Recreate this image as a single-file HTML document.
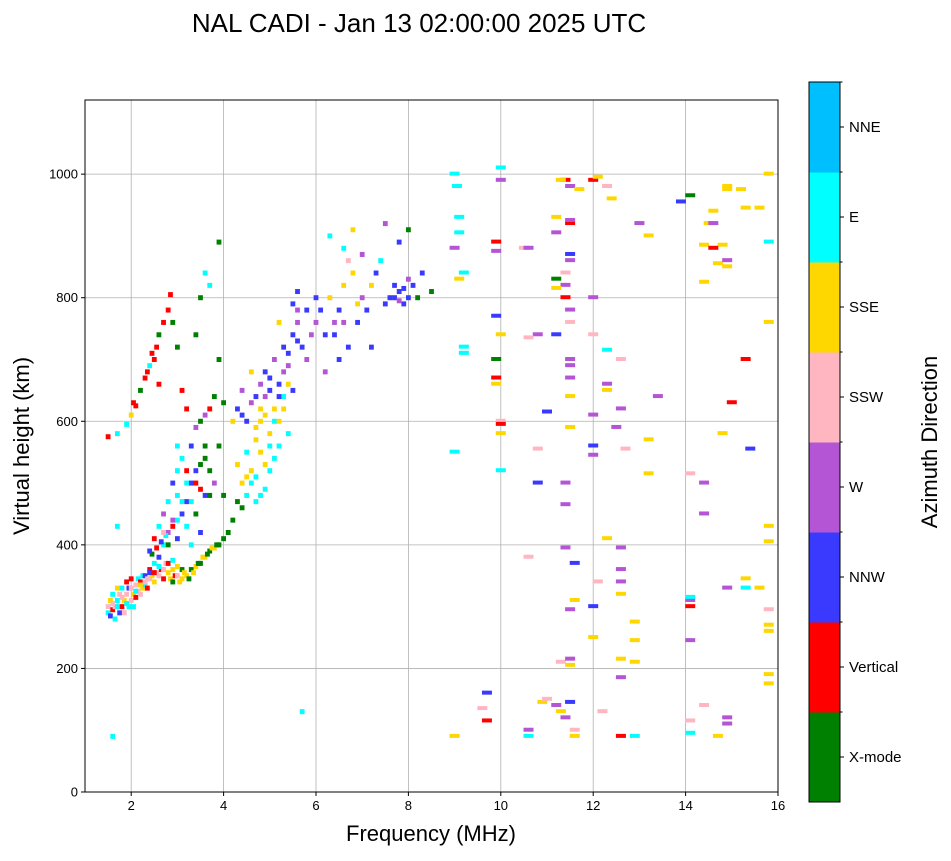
<!DOCTYPE html>
<html><head><meta charset="utf-8"><style>
body{margin:0;background:#fff;font-family:"Liberation Sans",sans-serif}
svg text{font-family:"Liberation Sans",sans-serif}
</style></head><body>
<svg id="chart" width="951" height="856" xmlns="http://www.w3.org/2000/svg">
<text x="419" y="32" font-size="26" text-anchor="middle">NAL CADI - Jan 13 02:00:00 2025 UTC</text>
<g id="grid"></g>
<g id="marks"></g>
<rect x="85" y="100" width="693" height="692" fill="none" stroke="#000" stroke-width="1"/>
<g id="axes"></g>
<text x="431" y="841" font-size="22" text-anchor="middle">Frequency (MHz)</text>
<text transform="translate(29,446) rotate(-90)" font-size="22" text-anchor="middle">Virtual height (km)</text>
<g id="cbar"></g>
<text transform="translate(937,442) rotate(-90)" font-size="22" text-anchor="middle">Azimuth Direction</text>
</svg>
<script>
const dirLabels=["X-mode","Vertical","NNW","W","SSW","SSE","E","NNE"];
const dirColors=["#008000","#ff0000","#3a3aff","#b455d6","#ffb6c1","#ffd700","#00ffff","#00bfff"];
const xTicks=[2,4,6,8,10,12,14,16];
const yTicks=[0,200,400,600,800,1000];
// [freq MHz, virtual height km, direction index]
const lowCluster=[[1.5,290,6],[1.5,300,4],[1.55,285,2],[1.55,310,5],[1.6,295,1],[1.6,320,6],[1.65,300,4],[1.65,280,6],[1.7,330,5],[1.7,310,6],[1.75,290,2],[1.75,320,4],[1.8,300,1],[1.8,330,6],[1.85,310,5],[1.85,290,4],[1.9,340,1],[1.9,320,4],[1.95,300,6],[1.95,330,2],[2.0,310,4],[2.0,345,1],[2.05,320,5],[2.05,300,6],[2.1,335,4],[2.1,315,1],[2.15,345,6],[2.15,325,4],[2.2,340,1],[2.2,320,4],[2.25,350,6],[2.25,330,5],[2.3,335,6],[2.3,350,2],[2.35,345,4],[2.35,330,1],[2.4,345,4],[2.4,360,1],[2.45,350,5],[2.5,340,5],[2.5,370,6],[2.55,355,4],[2.6,350,4],[2.6,380,2],[2.65,360,1],[2.7,345,1],[2.7,400,6],[2.75,370,4],[2.8,355,5],[2.8,420,3],[2.85,345,5],[2.9,340,0],[2.9,360,5],[2.95,350,1],[3.0,350,4],[3.0,440,6],[3.05,340,5],[3.1,345,5],[3.1,360,0],[3.15,355,5],[3.2,350,5],[3.2,470,2],[3.25,345,0],[3.3,360,0],[3.3,400,6],[3.35,355,5],[3.4,365,5],[3.4,500,1],[3.45,370,0],[3.5,370,0],[3.5,420,2],[3.55,380,5],[3.6,380,5],[3.6,540,0],[3.65,385,0],[3.7,390,0],[3.75,395,5],[3.8,395,5],[3.85,400,0],[3.9,400,0],[4.0,410,0],[4.0,630,0],[1.6,305,4],[1.7,300,6],[1.8,315,4],[1.9,305,6],[2.0,330,4],[2.1,325,6],[2.2,335,5],[2.3,340,4],[2.4,355,2],[2.5,355,1],[2.6,365,6],[2.7,360,4],[2.8,370,1],[2.9,375,6],[3.0,365,5],[2.45,385,0],[2.55,395,1],[2.65,405,2],[2.75,415,6]];
const midBand=[[2.4,390,2],[2.5,410,1],[2.6,430,6],[2.7,450,3],[2.8,470,6],[2.9,500,2],[3.0,520,6],[3.0,560,6],[3.1,540,6],[3.2,520,1],[3.3,560,2],[3.4,590,3],[3.5,600,0],[3.6,610,3],[3.7,620,1],[3.8,640,0],[3.9,700,0],[2.8,400,0],[3.0,410,2],[3.2,430,6],[3.4,450,0],[3.6,480,2],[3.8,500,3],[3.9,560,0],[3.7,520,0],[2.9,430,1],[3.1,470,6],[3.3,500,2],[3.5,530,0],[2.9,440,3],[3.1,450,2],[3.3,470,6],[3.5,490,1],[3.7,480,0],[2.7,420,4],[3.0,480,6],[3.2,500,6],[3.4,520,2],[3.6,560,0]];
const upperBranch=[[1.5,575,1],[1.7,580,6],[1.9,595,6],[2.0,610,5],[2.05,630,1],[2.1,625,1],[2.2,650,0],[2.3,670,1],[2.4,690,6],[2.5,700,1],[2.55,720,1],[2.6,740,0],[2.7,760,1],[2.8,780,1],[2.85,805,1],[2.9,760,0],[3.0,720,0],[3.1,650,1],[3.2,620,1],[3.4,740,0],[3.5,800,0],[3.6,840,6],[3.7,820,6],[3.9,890,0],[1.7,430,6],[1.6,90,6],[2.35,680,1],[2.45,710,1],[2.6,660,1]];
const fTrace=[[4.2,440,0],[4.3,470,0],[4.4,500,5],[4.5,480,6],[4.6,520,5],[4.7,470,6],[4.8,550,5],[4.9,490,6],[5.0,580,5],[5.0,520,6],[5.1,600,6],[5.2,560,6],[5.3,620,5],[5.4,580,6],[4.5,600,2],[4.6,630,3],[4.7,640,2],[4.8,660,3],[4.9,680,2],[5.0,650,2],[5.1,700,3],[5.2,660,2],[5.3,720,2],[5.4,690,3],[5.5,740,2],[5.5,650,2],[5.6,760,3],[5.7,720,2],[5.8,780,2],[5.9,740,3],[6.0,800,2],[4.3,620,2],[4.4,650,3],[4.6,680,5],[4.8,620,5],[5.2,760,5],[4.0,480,0],[4.1,420,0],[4.3,530,5],[4.5,550,6],[4.7,590,5],[4.9,610,5],[5.1,620,5],[5.3,640,6],[5.5,790,2],[5.6,810,2],[5.8,700,3],[4.6,500,6],[4.7,510,6],[4.8,480,6],[4.9,530,5],[5.0,560,6],[5.1,540,6],[4.7,570,5],[4.8,600,5],[4.9,640,3],[5.0,670,2],[5.2,640,2],[5.3,680,3],[5.4,710,2],[5.6,730,2],[4.4,610,2],[4.2,600,5],[4.4,460,0],[4.5,510,5],[5.2,600,5],[5.4,660,5],[5.6,780,3]];
const highTrace=[[6.0,760,3],[6.1,780,2],[6.2,740,2],[6.3,800,5],[6.4,760,3],[6.5,780,2],[6.6,820,5],[6.7,860,4],[6.8,840,5],[6.9,760,2],[7.0,800,3],[7.1,780,2],[7.2,820,5],[7.3,840,2],[7.4,860,6],[7.5,790,2],[7.6,800,2],[7.7,820,2],[7.8,810,2],[7.9,790,2],[8.0,830,3],[8.1,820,2],[8.2,800,0],[8.3,840,2],[8.5,810,0],[6.5,700,2],[6.6,880,6],[6.3,900,6],[6.8,910,5],[7.0,870,3],[7.5,920,3],[7.8,890,2],[8.0,910,0],[6.2,680,3],[6.7,720,2],[7.2,720,2],[7.7,800,2],[7.8,795,3],[7.9,815,2],[8.0,800,2],[6.4,740,2],[6.6,760,3],[6.9,790,5]];
const farEchoes=[[9.0,1000,6],[9.05,980,6],[9.1,930,6],[9.1,905,6],[9.0,880,3],[9.2,840,6],[9.1,830,5],[9.2,720,6],[9.2,710,6],[9.0,550,6],[9.0,90,5],[9.7,160,2],[9.6,135,4],[9.7,115,1],[10.0,1010,6],[10.0,990,3],[9.9,890,1],[9.9,875,3],[9.9,770,2],[9.9,700,0],[9.9,670,1],[9.9,660,5],[10.0,740,5],[10.0,600,4],[10.0,595,1],[10.0,580,5],[10.0,520,6],[10.5,880,4],[10.6,880,3],[10.8,740,3],[10.6,735,4],[10.6,380,4],[10.8,555,4],[10.8,500,2],[11.0,615,2],[10.6,100,3],[10.6,90,6],[10.9,145,5],[11.0,150,4],[11.2,140,3],[11.3,130,5],[11.4,120,3],[11.6,100,4],[11.6,90,5],[11.5,145,2],[11.3,210,4],[11.5,205,5],[11.5,215,3],[11.6,310,5],[11.5,295,3],[11.6,370,2],[11.4,395,3],[11.4,465,3],[11.4,500,3],[11.5,590,5],[11.5,640,5],[11.5,670,3],[11.5,690,3],[11.5,700,3],[11.5,760,4],[11.5,780,3],[11.4,800,1],[11.4,820,3],[11.4,840,4],[11.5,860,3],[11.5,870,2],[11.5,920,1],[11.5,925,3],[11.4,990,1],[11.5,980,3],[11.2,930,5],[11.2,905,3],[11.2,830,0],[11.2,815,5],[11.2,740,2],[11.3,990,5],[11.7,975,5],[12.0,990,1],[12.1,995,5],[12.0,800,3],[12.0,740,4],[12.3,715,6],[12.0,610,3],[12.0,560,2],[12.0,545,3],[12.0,300,2],[12.0,250,5],[12.1,340,4],[12.2,130,4],[12.3,410,5],[12.3,660,3],[12.3,650,5],[12.6,700,4],[12.6,620,3],[12.7,555,4],[12.5,590,3],[12.6,395,3],[12.6,360,3],[12.6,340,3],[12.6,320,5],[12.6,215,5],[12.6,185,3],[12.6,90,1],[12.9,90,6],[12.9,275,5],[12.9,245,5],[12.9,210,5],[13.0,920,3],[13.2,900,5],[13.2,570,5],[13.2,515,5],[13.4,640,3],[12.4,960,5],[12.3,980,4],[13.9,955,2],[14.1,965,0],[14.1,515,4],[14.1,300,1],[14.1,310,3],[14.1,315,6],[14.1,245,3],[14.1,115,4],[14.1,95,6],[14.4,500,3],[14.4,450,3],[14.4,140,4],[14.5,920,5],[14.6,920,3],[14.4,885,5],[14.8,885,5],[14.6,940,5],[14.6,880,1],[14.7,855,5],[14.9,860,3],[14.9,850,5],[14.4,825,5],[14.9,980,5],[14.9,975,5],[14.8,580,5],[14.9,330,3],[14.9,120,3],[14.9,110,3],[14.7,90,5],[15.2,975,5],[15.3,945,5],[15.6,945,5],[15.3,700,1],[15.0,630,1],[15.4,555,2],[15.3,345,5],[15.3,330,6],[15.6,330,5],[15.8,1000,5],[15.8,890,6],[15.8,760,5],[15.8,430,5],[15.8,405,5],[15.8,295,4],[15.8,270,5],[15.8,260,5],[15.8,190,5],[15.8,175,5],[5.7,130,6]];
const NS="http://www.w3.org/2000/svg";
const X0=85,X1=778,Y0=792,Y1=100;
function xs(f){return X0+(f-1)/15*(X1-X0);}
function ys(h){return Y0-h/1120*(Y0-Y1);}
function mk(tag,attrs,parent){const e=document.createElementNS(NS,tag);for(const k in attrs)e.setAttribute(k,attrs[k]);parent.appendChild(e);return e;}
const grid=document.getElementById('grid'),axes=document.getElementById('axes'),marks=document.getElementById('marks'),cbar=document.getElementById('cbar');
xTicks.forEach(t=>{const x=xs(t);
 const g=mk('line',{x1:x,x2:x,y1:Y1,y2:Y0,stroke:'#b0b0b0','stroke-width':0.8},grid);
 
 mk('line',{x1:x,x2:x,y1:Y0,y2:Y0+4,stroke:'#000'},axes);
 const tx=mk('text',{x:x,y:Y0+18,'font-size':13,'text-anchor':'middle'},axes);tx.textContent=t;
 });
yTicks.forEach(t=>{const y=ys(t);
 const g=mk('line',{x1:X0,x2:X1,y1:y,y2:y,stroke:'#b0b0b0','stroke-width':0.8},grid);
 
 mk('line',{x1:X0-4,x2:X0,y1:y,y2:y,stroke:'#000'},axes);
 const tx=mk('text',{x:X0-7,y:y+4.5,'font-size':13,'text-anchor':'end'},axes);tx.textContent=t;
 });
[lowCluster,midBand,upperBranch,fTrace,highTrace,farEchoes].forEach(set=>{
 set.forEach(p=>{
  const w=p[0]>=8.8?10:4.8;
  const r=mk('rect',{x:xs(p[0])-w/2,y:ys(p[1])-2.5,width:w,height:p[0]>=8.8?4:5,fill:dirColors[p[2]]},marks);
  
 });
});
const CB0=809,CBW=31,CBT=82,CBB=802,seg=(CBB-CBT)/dirLabels.length;
dirLabels.forEach((lab,i)=>{const y=CBB-(i+1)*seg;
 const r=mk('rect',{x:CB0,y:y,width:CBW,height:seg+0.5,fill:dirColors[i]},cbar);
 
 mk('line',{x1:CB0+CBW,x2:CB0+CBW+4,y1:y+seg/2,y2:y+seg/2,stroke:'#000'},cbar);
 mk('line',{x1:CB0+CBW,x2:CB0+CBW+2.5,y1:y,y2:y,stroke:'#000'},cbar);
 const tx=mk('text',{x:CB0+CBW+9,y:y+seg/2+5,'font-size':15},cbar);tx.textContent=lab;
 });
mk('rect',{x:CB0,y:CBT,width:CBW,height:CBB-CBT,fill:'none',stroke:'#000','stroke-width':1},cbar);
</script>
</body></html>
